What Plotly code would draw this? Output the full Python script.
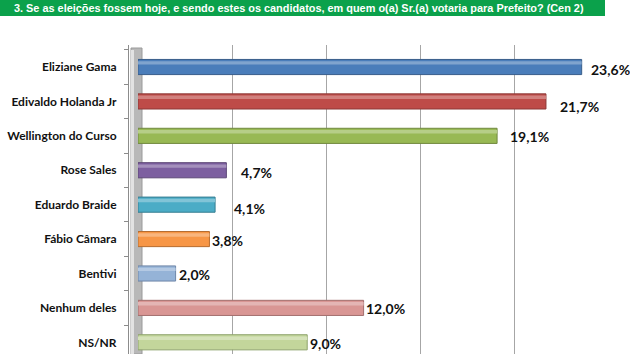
import plotly.graph_objects as go

categories = ["Eliziane Gama", "Edivaldo Holanda Jr", "Wellington do Curso", "Rose Sales",
              "Eduardo Braide", "Fábio Câmara", "Bentivi", "Nenhum deles", "NS/NR"]
values = [23.6, 21.7, 19.1, 4.7, 4.1, 3.8, 2.0, 12.0, 9.0]
value_labels = ["23,6%", "21,7%", "19,1%", "4,7%", "4,1%", "3,8%", "2,0%", "12,0%", "9,0%"]
title_text = "3. Se as eleições fossem hoje, e sendo estes os candidatos, em quem o(a) Sr.(a) votaria para Prefeito? (Cen 2)"

bar_colors = ["#4A7DBA", "#BE4B48", "#98B954", "#7D5FA0", "#4BACC6", "#F79646", "#95B3D7", "#D99694", "#C3D69B"]
line_colors = ["#385D8A", "#8C3836", "#71893F", "#5C4776", "#357D91", "#B66D31", "#6E86A8", "#A26F6E", "#8FA36C"]
label_gap = [7, 12, 11, 13, 17, 1, 1, 0, 1]
label_dy = [-2, -5, -1, -2, -4, -1, -1, -1, -1]

W, H = 630, 354
L, R, T, B = 118, 22, 45, 0
PW, PH = W - L - R, H - T - B


def px_x(p):
    return (p - L) / PW


def px_y(p):
    return 1 - (p - T) / PH


def lighten(hexc, f):
    h = hexc.lstrip("#")
    r, g, b = int(h[0:2], 16), int(h[2:4], 16), int(h[4:6], 16)
    r, g, b = [int(c + (255 - c) * f) for c in (r, g, b)]
    return f"#{r:02X}{g:02X}{b:02X}"


fig = go.Figure()
fig.add_trace(go.Bar(
    y=categories, x=values, orientation="h", width=0.44,
    marker=dict(color=bar_colors, line=dict(color=line_colors, width=1)),
    hoverinfo="skip", showlegend=False,
))
fig.add_trace(go.Bar(
    y=categories, x=values, orientation="h", width=0.1, offset=-0.17,
    marker=dict(color=[lighten(c, 0.3) for c in bar_colors], line=dict(width=0)),
    hoverinfo="skip", showlegend=False,
))

for cat, v, lab, gap, dy in zip(categories, values, value_labels, label_gap, label_dy):
    fig.add_annotation(x=v, y=cat, xref="x", yref="y", text=lab, showarrow=False,
                       xanchor="left", xshift=gap, yshift=dy,
                       font=dict(family="Lato", size=14, color="#111111", weight="bold"))

shapes = [
    # title bar
    dict(type="rect", xref="paper", yref="paper", x0=px_x(0), x1=px_x(605),
         y0=px_y(16), y1=px_y(0), fillcolor="#0BA14B", line=dict(width=0), layer="above"),
    # 3D wall
    dict(type="rect", xref="paper", yref="paper", x0=px_x(131), x1=px_x(142),
         y0=px_y(354), y1=px_y(48), fillcolor="#B8B8B8", line=dict(color="#9A9A9A", width=1), layer="below"),
    dict(type="rect", xref="paper", yref="paper", x0=px_x(131), x1=px_x(134),
         y0=px_y(354), y1=px_y(50), fillcolor="#E2E2E2", line=dict(width=0), layer="below"),
]

fig.add_annotation(xref="paper", yref="paper", x=px_x(12), y=px_y(8), text=f"<b>{title_text}</b>",
                   showarrow=False, xanchor="left", yanchor="middle",
                   font=dict(family="Liberation Sans", size=10.9, color="white"))

fig.update_layout(
    width=W, height=H, margin=dict(l=L, r=R, t=T, b=B, pad=0, autoexpand=False),
    paper_bgcolor="white", plot_bgcolor="white",
    barmode="overlay", shapes=shapes,
    xaxis=dict(range=[0, 25], dtick=5, showgrid=True, gridcolor="#A6A6A6", gridwidth=1,
               showticklabels=False, zeroline=False, showline=False, automargin=False,
               domain=[(138 - L) / PW, 1]),
    yaxis=dict(autorange=False, range=[8.34, -0.64], type="category", anchor="free",
               position=(128 - L) / PW, showline=True, linecolor="#8C8C8C", linewidth=1,
               ticks="outside", tickson="boundaries", ticklen=4, tickcolor="#8C8C8C",
               showgrid=False, ticklabelstandoff=9, automargin=False,
               tickfont=dict(family="Lato", size=12, color="#111111", weight="bold")),
)

fig.write_html("out.html")
